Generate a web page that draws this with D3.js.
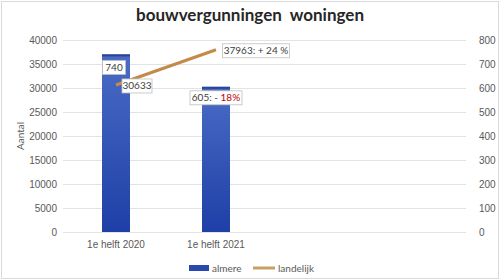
<!DOCTYPE html>
<html lang="nl">
<head>
<meta charset="UTF-8">
<title>bouwvergunningen woningen</title>
<script src="https://d3js.org/d3.v7.min.js"></script>
<style>
  body { margin: 0; background: #fff; font-family: Lato, "Open Sans", sans-serif; }
  .tick text { fill: #595959; font-size: 10px; }
  .lbl { font-size: 10px; fill: #404040; }
</style>
</head>
<body>
<svg id="chart" width="500" height="280"></svg>
<script>
// data
const categories = ["1e helft 2020", "1e helft 2021", "", " "];
const almere = [740, 605];          // bars, right axis
const landelijk = [30633, 37963];   // line, left axis
const leftTicks = [0, 5000, 10000, 15000, 20000, 25000, 30000, 35000, 40000];
const rightTicks = [0, 100, 200, 300, 400, 500, 600, 700, 800];
const barLabels = ["740", "605: - |18%"];
const lineLabels = ["30633", "37963: + 24 %"];

const svg = d3.select("#chart");
const plot = { left: 66, right: 466, top: 40, bottom: 232 };

svg.append("rect").attr("x", 1.5).attr("y", 1.5).attr("width", 497).attr("height", 277)
  .attr("fill", "#fff").attr("stroke", "#d9d9d9");

const x = d3.scaleBand().domain(categories).range([plot.left, plot.right]);
const yL = d3.scaleLinear().domain([0, 40000]).range([plot.bottom, plot.top]);
const yR = d3.scaleLinear().domain([0, 800]).range([plot.bottom, plot.top]);

// gradient for bars
const defs = svg.append("defs");
const grad = defs.append("linearGradient").attr("id", "barGrad")
  .attr("x1", 0).attr("y1", 0).attr("x2", 0).attr("y2", 1);
grad.append("stop").attr("offset", "0%").attr("stop-color", "#4a6cc6");
grad.append("stop").attr("offset", "100%").attr("stop-color", "#1e3fa6");

// gridlines
svg.append("g").selectAll("line").data(leftTicks).join("line")
  .attr("x1", plot.left - 3).attr("x2", plot.right)
  .attr("y1", d => yL(d) + 0.5).attr("y2", d => yL(d) + 0.5)
  .attr("stroke", "#e3e3e3");

// axes
const axL = svg.append("g").attr("transform", `translate(${plot.left - 4},0)`)
  .call(d3.axisLeft(yL).tickValues(leftTicks).tickFormat(d3.format("d")).tickSize(0).tickPadding(5));
axL.select(".domain").remove();
const axR = svg.append("g").attr("transform", `translate(${plot.right + 10},0)`)
  .call(d3.axisRight(yR).tickValues(rightTicks).tickFormat(d3.format("d")).tickSize(0).tickPadding(3));
axR.select(".domain").remove();
const axX = svg.append("g").attr("transform", `translate(0,${plot.bottom + 4})`)
  .call(d3.axisBottom(x).tickSize(0).tickPadding(5));
axX.select(".domain").remove();

// y title
svg.append("text").attr("transform", `translate(24,${(plot.top + plot.bottom) / 2}) rotate(-90)`)
  .attr("text-anchor", "middle").attr("font-size", 10).attr("fill", "#595959").text("Aantal");

// bars
const bw = 28;
const bars = svg.append("g").selectAll("g").data(almere).join("g");
bars.append("rect")
  .attr("x", (d, i) => x(categories[i]) + x.bandwidth() / 2 - bw / 2)
  .attr("y", d => yR(d)).attr("width", bw)
  .attr("height", d => plot.bottom - yR(d))
  .attr("fill", "url(#barGrad)");
bars.append("rect")
  .attr("x", (d, i) => x(categories[i]) + x.bandwidth() / 2 - bw / 2)
  .attr("y", d => yR(d)).attr("width", bw).attr("height", 2)
  .attr("fill", "#2a4590");

// line
const line = d3.line()
  .x((d, i) => x(categories[i]) + x.bandwidth() / 2)
  .y(d => yL(d));
svg.append("path").datum(landelijk).attr("d", line)
  .attr("fill", "none").attr("stroke", "#c48a4a").attr("stroke-width", 3);

// data labels
function label(cx, cy, parts, w) {
  const g = svg.append("g");
  g.append("rect").attr("x", cx - w / 2).attr("y", cy - 7).attr("width", w).attr("height", 14)
    .attr("fill", "#fff").attr("stroke", "#bfbfbf").attr("stroke-width", 0.8);
  const t = g.append("text").attr("class", "lbl").attr("x", cx).attr("y", cy + 3.5)
    .attr("text-anchor", "middle");
  parts.forEach((p, k) => t.append("tspan").text(p).attr("fill", k === 1 ? "#c00000" : "#404040"));
}
const cx0 = x(categories[0]) + x.bandwidth() / 2;
const cx1 = x(categories[1]) + x.bandwidth() / 2;
label(cx0 - 2, yR(almere[0]) + 13, barLabels[0].split("|"), 23);
label(cx1, yR(almere[1]) + 11, barLabels[1].split("|"), 52);
label(cx0 + 21, yL(landelijk[0]) + 1, [lineLabels[0]], 30);
label(cx1 + 40, yL(landelijk[1]) + 1, [lineLabels[1]], 67);

// title
svg.append("text").attr("x", 250).attr("y", 21).attr("text-anchor", "middle")
  .attr("font-size", 17).attr("font-weight", "bold").attr("fill", "#262626")
  .style("white-space", "pre")
  .text("bouwvergunningen  woningen");

// legend
const lg = svg.append("g").attr("transform", "translate(189,268)");
lg.append("rect").attr("x", 0).attr("y", -3).attr("width", 20).attr("height", 6).attr("fill", "#2a49ad");
lg.append("text").attr("x", 23).attr("y", 3.5).attr("font-size", 10).attr("fill", "#595959").text("almere");
lg.append("line").attr("x1", 64).attr("x2", 86).attr("y1", 0).attr("y2", 0)
  .attr("stroke", "#c8a060").attr("stroke-width", 3);
lg.append("text").attr("x", 89).attr("y", 3.5).attr("font-size", 10).attr("fill", "#595959").text("landelijk");
</script>
</body>
</html>
